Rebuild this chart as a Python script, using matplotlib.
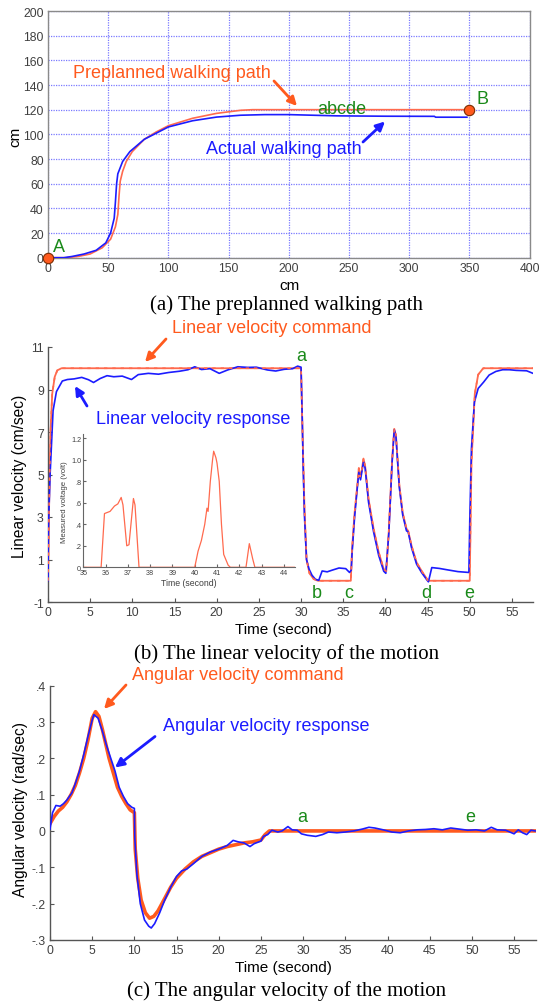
import matplotlib
matplotlib.use("Agg")
import matplotlib.pyplot as plt

# ---------------- data ----------------
# (a) walking path (cm)
plan_x = [0, 15, 25, 35, 45, 52, 56, 58, 59, 60, 62, 65, 70, 80, 90, 100, 120, 140, 160, 170, 350]
plan_y = [0, 0, 1, 3, 8, 15, 25, 35, 50, 62, 70, 78, 86, 96, 102, 107, 113, 117, 119.5, 120, 120]
act_x = [0, 13, 20, 30, 40, 48, 52, 55, 56, 57, 58, 62, 68, 80, 90, 100, 120, 140, 160, 180, 200,
         220, 240, 280, 321, 322, 348]
act_y = [0, 0, 1, 3, 6, 12, 20, 32, 45, 60, 68, 78, 86, 96, 101, 106, 111, 114, 115.5, 116, 116,
         115.5, 115, 114.7, 114.6, 113.9, 113.9]
point_x = [0, 350]
point_y = [0, 120]

# (b) linear velocity (cm/sec)
lin_cmd_t = [0, 0.15, 0.3, 0.5, 0.8, 1.1, 1.6, 2.0, 30.0, 30.15, 30.4, 30.65, 31.0, 31.5, 32.0,
             35.9, 36.05, 36.35, 36.7, 36.85, 37.0, 37.2, 37.4, 37.6, 38.0, 38.6, 39.2, 39.8, 40.1,
             40.4, 40.8, 41.05, 41.25, 41.65, 42.05, 42.5, 42.7, 43.1, 43.7, 44.3, 44.9, 45.05,
             50.0, 50.2, 50.6, 51.0, 51.6, 57.6]
lin_cmd_v = [0, 4.0, 7.0, 8.8, 9.6, 9.9, 10.0, 10.0, 10.0, 7.4, 3.5, 1.0, 0.35, 0.08, 0.0,
             0.0, 1.5, 3.2, 4.6, 5.3, 4.9, 5.2, 5.75, 5.4, 3.85, 2.45, 1.35, 0.55, 0.45,
             2.3, 5.7, 7.15, 6.85, 4.5, 3.2, 2.45, 2.35, 1.65, 0.86, 0.46, 0.1, 0.0,
             0.0, 5.5, 8.8, 9.7, 10.0, 10.0]
lin_res_t = [0, 0.05, 0.25, 0.6, 1.0, 1.7, 2.3, 3.1, 4.0, 4.8, 5.4, 6.2, 7.0, 7.8, 8.8, 9.9, 10.7,
             11.9, 13.1, 14.3, 15.6, 16.6, 17.4, 18.2, 19.2, 20.3, 21.3, 22.5, 23.7, 24.7, 26.0,
             27.0, 28.0, 29.0, 29.6, 30.0, 30.15, 30.25, 30.4, 30.65, 30.95, 31.3, 31.7, 32.1,
             32.5, 33.1, 33.7, 34.5, 35.3, 35.75, 35.95, 36.05, 36.35, 36.7, 36.85, 37.05, 37.2,
             37.4, 37.6, 38.0, 38.6, 39.2, 39.8, 40.05, 40.4, 40.8, 41.05, 41.25, 41.65, 42.05,
             42.5, 42.7, 43.1, 43.7, 44.3, 44.9, 45.1, 45.5, 46.4, 47.4, 48.6, 49.9, 50.0, 50.2,
             50.55, 51.0, 51.65, 52.3, 53.1, 53.9, 54.7, 55.5, 56.75, 57.5]
lin_res_v = [0.0, 2.5, 5.0, 8.0, 8.9, 9.4, 9.47, 9.5, 9.57, 9.46, 9.33, 9.52, 9.65, 9.6, 9.63, 9.47,
             9.7, 9.76, 9.72, 9.8, 9.86, 9.93, 10.07, 9.94, 9.98, 9.76, 9.92, 10.07, 10.04, 10.05,
             9.92, 9.87, 9.95, 9.98, 10.1, 10.05, 7.5, 5.4, 3.1, 1.0, 0.55, 0.26, 0.07, 0.02,
             0.46, 0.42, 0.5, 0.6, 0.57, 0.39, 0.5, 1.3, 3.0, 4.5, 5.1, 4.75, 5.1,
             5.6, 5.3, 3.7, 2.3, 1.2, 0.45, 0.35, 2.2, 5.6, 7.1, 6.8, 4.4, 3.1,
             2.35, 2.3, 1.55, 0.78, 0.38, 0.05, -0.05, 0.62, 0.58, 0.51, 0.43, 0.39, 2.75, 6.2,
             8.4, 9.05, 9.35, 9.68, 9.85, 9.93, 9.93, 9.9, 9.88, 9.76]

# inset: measured voltage (volt)
volt_t = [35.0, 35.8, 35.95, 36.2, 36.4, 36.55, 36.7, 36.78, 36.95, 37.05, 37.25, 37.32, 37.5,
          40.0, 40.15, 40.3, 40.45, 40.55, 40.6, 40.7, 40.8, 40.85, 40.95, 41.0, 41.1, 41.2,
          41.3, 41.5, 41.6, 42.3, 42.45, 42.6, 42.7, 44.5]
volt_v = [0.0, 0.0, 0.5, 0.52, 0.57, 0.59, 0.65, 0.58, 0.2, 0.21, 0.64, 0.58, 0.0,
          0.0, 0.15, 0.25, 0.4, 0.55, 0.52, 0.8, 1.0, 1.08, 1.02, 0.97, 0.8, 0.4,
          0.12, 0.02, 0.0, 0.0, 0.22, 0.08, 0.0, 0.0]

# (c) angular velocity (rad/sec)
ang_cmd_t = [0, 0.5, 1.0, 1.5, 2.0, 2.5, 3.0, 3.5, 4.0, 4.5, 5.0, 5.4, 5.8, 6.2, 6.6, 7.0, 7.5,
             8.0, 8.5, 9.0, 9.5, 10.0, 10.1, 10.4, 10.8, 11.3, 11.8, 12.3, 12.8, 13.5, 14.3,
             15.0, 16.0, 17.0, 18.0, 19.0, 20.0, 21.0, 22.0, 23.0, 24.0, 25.0, 25.5, 26.0, 57.6]
ang_cmd_v = [0.02, 0.04, 0.055, 0.065, 0.08, 0.1, 0.125, 0.16, 0.2, 0.25, 0.31, 0.328, 0.315,
             0.28, 0.24, 0.2, 0.16, 0.12, 0.095, 0.075, 0.058, 0.05, -0.05, -0.13, -0.19,
             -0.225, -0.24, -0.235, -0.22, -0.19, -0.155, -0.13, -0.105, -0.085, -0.07, -0.06,
             -0.05, -0.043, -0.038, -0.033, -0.03, -0.025, -0.01, 0.0, 0.0]
ang_res_t = [0, 0.3, 0.7, 1.2, 1.6, 2.0, 2.6, 3.0, 3.5, 4.0, 4.5, 5.0, 5.2, 5.7, 6.2, 6.7, 7.2,
             7.7, 8.2, 8.7, 9.2, 9.7, 10.0, 10.05, 10.3, 10.7, 11.2, 11.7, 12.0, 12.4, 13.0,
             13.6, 14.3, 15.0, 15.6, 16.2, 17.0, 18.0, 19.0, 20.0, 21.0, 21.7, 22.3, 23.0, 23.7,
             24.2, 25.0, 25.3, 25.8, 26.3, 27.0, 27.5, 28.2, 28.7, 29.3, 29.8, 30.5, 31.5, 32.3,
             33.0, 34.0, 35.0, 36.0, 37.0, 37.8, 38.5, 39.5, 40.5, 41.5, 42.5, 43.5, 44.5, 45.5,
             46.5, 47.5, 48.5, 49.5, 50.5, 51.5, 52.3, 53.0, 54.0, 55.0, 55.5, 56.0, 56.5, 57.0, 57.5]
ang_res_v = [0.005, 0.05, 0.07, 0.068, 0.075, 0.085, 0.105, 0.13, 0.165, 0.21, 0.26, 0.305, 0.32,
             0.31, 0.275, 0.235, 0.2, 0.165, 0.12, 0.095, 0.075, 0.065, 0.062, -0.02, -0.12,
             -0.2, -0.245, -0.262, -0.267, -0.255, -0.225, -0.19, -0.155, -0.125, -0.11, -0.105,
             -0.09, -0.07, -0.058, -0.05, -0.04, -0.026, -0.03, -0.033, -0.043, -0.035, -0.028,
             -0.015, -0.01, 0.002, -0.003, 0.0, 0.012, 0.003, 0.002, -0.008, -0.012, -0.015,
             -0.01, -0.003, -0.005, -0.003, 0.0, 0.005, 0.01, 0.008, 0.003, -0.003, -0.005, 0.0,
             0.003, 0.004, 0.006, 0.003, 0.008, 0.005, 0.002, 0.003, 0.0, 0.01, 0.003, 0.002,
             -0.008, 0.003, -0.005, -0.01, 0.002, 0.0]

path_xticks = [0, 50, 100, 150, 200, 250, 300, 350, 400]
path_yticks = [0, 20, 40, 60, 80, 100, 120, 140, 160, 180, 200]
lin_xticks = [0, 5, 10, 15, 20, 25, 30, 35, 40, 45, 50, 55]
lin_yticks = [-1, 1, 3, 5, 7, 9, 11]
volt_xticks = [35, 36, 37, 38, 39, 40, 41, 42, 43, 44]
volt_yticks = [0, 0.2, 0.4, 0.6, 0.8, 1.0, 1.2]
volt_ylabels = ["0", ".2", ".4", ".6", ".8", "1.0", "1.2"]
ang_yticks = [-0.3, -0.2, -0.1, 0, 0.1, 0.2, 0.3, 0.4]
ang_ylabels = ["-.3", "-.2", "-.1", "0", ".1", ".2", ".3", ".4"]

# ---------------- style ----------------
W, H = 539, 1003
ORANGE = "#ff5a1e"
RED_LINE = "#ff6a4e"
BLUE = "#1c1cff"
GREEN = "#1a8a1a"
TICKC = "#404040"
SANS = ["Liberation Sans", "DejaVu Sans"]
SERIF = ["Liberation Serif", "DejaVu Serif"]
plt.rcParams["font.family"] = SANS
plt.rcParams["axes.unicode_minus"] = False
ANN = 13
TICK = 8.8

fig = plt.figure(figsize=(W / 100, H / 100), dpi=100)


def box(l, t, r, b):
    return [l / W, 1 - b / H, (r - l) / W, (b - t) / H]


def fp(x, y):
    return (x / W, 1 - y / H)


def ftext(x, y, s, **kw):
    fig.text(x / W, 1 - y / H, s, ha=kw.pop("ha", "center"), va=kw.pop("va", "center"), **kw)


def farrow(tail, head, color):
    fig.add_artist(matplotlib.patches.FancyArrowPatch(
        fp(*tail), fp(*head), transform=fig.transFigure, arrowstyle="-|>",
        mutation_scale=13, color=color, lw=2.0, shrinkA=0, shrinkB=0))


# ---------------- (a) path ----------------
ax1 = fig.add_axes(box(48, 12, 529.5, 258.7))
ax1.set_xlim(0, 400)
ax1.set_ylim(0, 200)
ax1.set_xticks(path_xticks)
ax1.set_yticks(path_yticks)
ax1.grid(True, color="#7a7aff", linestyle=(0, (1, 1)), lw=0.9)
ax1.tick_params(length=0, labelsize=TICK, labelcolor=TICKC, pad=3)
for s in ax1.spines.values():
    s.set_color("#8a8a8a")
    s.set_linewidth(1.0)
ax1.plot(plan_x, plan_y, color=RED_LINE, lw=1.2, zorder=3)
ax1.plot(act_x, act_y, color=BLUE, lw=1.2, zorder=3)
ax1.plot(point_x, point_y, "o", ms=7.5, color=ORANGE, mec="#7a2a00", mew=0.8, zorder=5, clip_on=False)

ftext(289, 286, "cm", fontsize=11)
ftext(15.5, 137, "cm", fontsize=11, rotation=90)
ftext(172, 73, "Preplanned walking path", fontsize=ANN, color=ORANGE)
farrow((274, 82), (297, 107), ORANGE)
ftext(342, 110, "abcde", fontsize=ANN, color=GREEN)
ftext(284, 149, "Actual walking path", fontsize=ANN, color=BLUE)
farrow((363, 143), (385, 122.5), BLUE)
ftext(59, 248, "A", fontsize=ANN, color=GREEN)
ftext(482, 99, "B", fontsize=ANN, color=GREEN)
ftext(287, 305, "(a) The preplanned walking path", fontsize=15, family=SERIF)


def style_axes(ax):
    for side in ("top", "right"):
        ax.spines[side].set_visible(False)
    for side in ("left", "bottom"):
        ax.spines[side].set_color("#555555")
        ax.spines[side].set_linewidth(1.0)
    ax.tick_params(direction="in", length=3, color="#555555", labelsize=TICK,
                   labelcolor=TICKC, pad=3)


# ---------------- (b) linear velocity ----------------
ax2 = fig.add_axes(box(48, 348, 533, 603))
ax2.set_xlim(0, 57.5)
ax2.set_ylim(-1, 11)
ax2.set_xticks(lin_xticks)
ax2.set_yticks(lin_yticks)
style_axes(ax2)
ax2.plot(lin_cmd_t, lin_cmd_v, color=RED_LINE, lw=1.3, zorder=2)
ax2.plot(lin_res_t, lin_res_v, color=BLUE, lw=1.2, zorder=3)
ax2.plot(lin_cmd_t, lin_cmd_v, color=RED_LINE, lw=1.2, zorder=4, dashes=(2, 3))

ftext(283, 630, "Time (second)", fontsize=11)
ftext(19.5, 476, "Linear velocity (cm/sec)", fontsize=11.2, rotation=90)
ftext(272, 329, "Linear velocity command", fontsize=ANN, color=ORANGE)
farrow((166, 340), (145, 363), ORANGE)
ftext(193, 419, "Linear velocity response", fontsize=ANN, color=BLUE)
farrow((87, 407), (75, 387), BLUE)
for lx, ly, s in [(301, 357, "a"), (317, 593, "b"), (349, 593, "c"), (426, 593, "d"), (469, 593, "e")]:
    ftext(lx, ly, s, fontsize=ANN, color=GREEN)
ftext(287, 654, "(b) The linear velocity of the motion", fontsize=15, family=SERIF)

# inset
ax3 = fig.add_axes(box(83.3, 435, 295, 568.3))
ax3.patch.set_alpha(0)
ax3.set_xlim(35, 44.5)
ax3.set_ylim(0, 1.24)
ax3.set_xticks(volt_xticks)
ax3.set_yticks(volt_yticks)
ax3.set_yticklabels(volt_ylabels)
for side in ("top", "right"):
    ax3.spines[side].set_visible(False)
for side in ("left", "bottom"):
    ax3.spines[side].set_color("#666666")
    ax3.spines[side].set_linewidth(0.8)
ax3.tick_params(direction="in", length=2, color="#666666", labelsize=5.2, labelcolor=TICKC, pad=1.5)
ax3.plot(volt_t, volt_v, color=RED_LINE, lw=0.9)
ax3.set_xlabel("Time (second)", fontsize=6.3, color=TICKC, labelpad=1)
ax3.set_ylabel("Measured voltage (volt)", fontsize=5.6, color=TICKC, labelpad=2)

# ---------------- (c) angular velocity ----------------
ax4 = fig.add_axes(box(50, 686.5, 536, 941))
ax4.set_xlim(0, 57.6)
ax4.set_ylim(-0.3, 0.4)
ax4.set_xticks(lin_xticks)
ax4.set_yticks(ang_yticks)
ax4.set_yticklabels(ang_ylabels)
style_axes(ax4)
ax4.plot(ang_cmd_t, ang_cmd_v, color=ORANGE, lw=2.6, zorder=2)
ax4.plot(ang_res_t, ang_res_v, color=BLUE, lw=1.2, zorder=3)

ftext(283, 968, "Time (second)", fontsize=11)
ftext(20.5, 810, "Angular velocity (rad/sec)", fontsize=11.2, rotation=90)
ftext(237.5, 676, "Angular velocity command", fontsize=ANN, color=ORANGE)
farrow((126, 686), (104, 710), ORANGE)
ftext(266, 727, "Angular velocity response", fontsize=ANN, color=BLUE)
farrow((155, 737.5), (115, 768.5), BLUE)
ftext(302, 817, "a", fontsize=ANN, color=GREEN)
ftext(470.5, 817, "e", fontsize=ANN, color=GREEN)
ftext(287, 991, "(c) The angular velocity of the motion", fontsize=15, family=SERIF)

fig.savefig("out.png", dpi=100)
